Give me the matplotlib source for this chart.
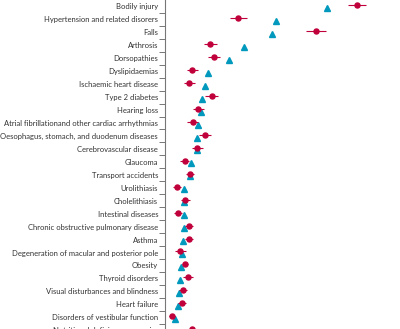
import matplotlib.pyplot as plt

# Rows, top to bottom (sorted by the triangle series).
conditions = [
    'Bodily injury', 'Hypertension and related disorers', 'Falls', 'Arthrosis',
    'Dorsopathies', 'Dyslipidaemias', 'Ischaemic heart disease', 'Type 2 diabetes',
    'Hearing loss', 'Atrial fibrillationand other cardiac arrhythmias',
    'Oesophagus, stomach, and duodenum diseases', 'Cerebrovascular disease',
    'Glaucoma', 'Transport accidents', 'Urolithiasis', 'Cholelithiasis',
    'Intestinal diseases', 'Chronic obstructive pulmonary disease', 'Asthma',
    'Degeneration of macular and posterior pole', 'Obesity', 'Thyroid disorders',
    'Visual disturbances and blindness', 'Heart failure',
    'Disorders of vestibular function', 'Nutritional deficiency anaemias',
]

# Circle series with interval, and triangle series.
circle = [19.2, 7.3, 15.1, 4.5, 4.9, 2.7, 2.4, 4.7, 3.3, 2.8, 4.0, 3.2, 2.0,
          2.5, 1.2, 2.0, 1.3, 2.4, 2.4, 1.5, 2.0, 2.3, 1.8, 1.7, 0.7, 2.7]
circle_lo = [18.3, 6.5, 14.1, 3.9, 4.3, 2.2, 1.9, 4.0, 2.8, 2.2, 3.4, 2.7, 1.5,
             2.1, 0.8, 1.6, 0.9, 2.0, 2.0, 1.0, 1.7, 1.8, 1.4, 1.3, 0.4, 2.3]
circle_hi = [20.1, 8.2, 16.1, 5.2, 5.5, 3.3, 3.0, 5.3, 3.9, 3.3, 4.6, 3.8, 2.4,
             2.9, 1.6, 2.5, 1.7, 2.8, 2.8, 2.1, 2.3, 2.8, 2.2, 2.1, 1.0, 3.1]
triangle = [16.2, 11.1, 10.7, 7.9, 6.4, 4.3, 4.0, 3.7, 3.6, 3.3, 3.2, 3.2, 2.6,
            2.5, 1.9, 1.9, 1.9, 1.9, 1.8, 1.7, 1.6, 1.5, 1.4, 1.3, 1.0, 0.9]

RED = '#c0003a'
BLUE = '#0099bd'
GREY = '#777777'

plt.rcParams['font.family'] = ['Lato', 'DejaVu Sans']

fig = plt.figure(figsize=(4.0, 3.29), dpi=100)
ax = fig.add_axes([0.4125, -0.0234, 0.5875, 1.0234])

rows = list(range(len(conditions)))
err = [[c - lo for c, lo in zip(circle, circle_lo)],
       [hi - c for c, hi in zip(circle, circle_hi)]]

ax.errorbar(circle, [r - 0.08 for r in rows], xerr=err, fmt='o', color=RED,
            ms=3.6, elinewidth=0.8, capsize=0, zorder=3)
ax.plot(triangle, [r + 0.12 for r in rows], '^', color=BLUE, ms=4.5,
        linestyle='none', zorder=2)

ax.set_xlim(0, 23.5)
ax.set_ylim(len(conditions) - 0.5, -0.5)

ax.set_yticks(rows)
ax.set_yticklabels(conditions, fontsize=5.5, color='#333333')
ax.set_yticks([r + 0.5 for r in rows[:-1]], minor=True)
ax.tick_params(axis='y', which='major', length=0, pad=5)
ax.tick_params(axis='y', which='minor', length=4, width=0.7, color=GREY,
               direction='out')
ax.set_xticks([])

for side in ('top', 'right', 'bottom'):
    ax.spines[side].set_visible(False)
ax.spines['left'].set_color(GREY)
ax.spines['left'].set_linewidth(0.8)

fig.savefig('out.png', dpi=100)
